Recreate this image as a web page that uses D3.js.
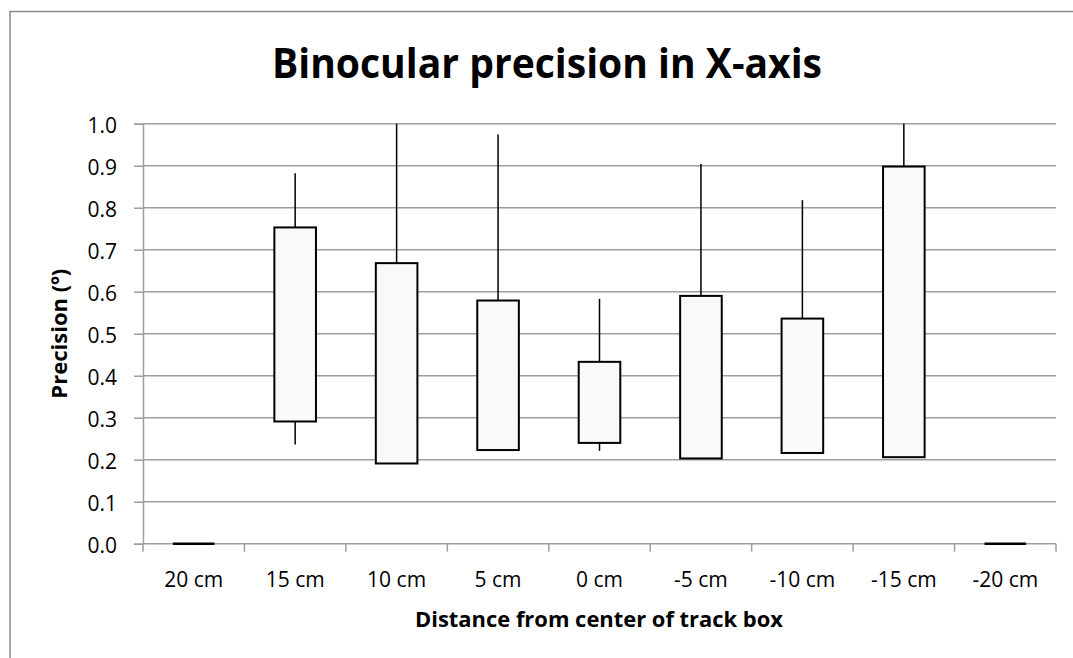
<!DOCTYPE html>
<html>
<head>
<meta charset="utf-8">
<script src="https://cdn.jsdelivr.net/npm/d3@7"></script>
<style>
  html, body { margin: 0; padding: 0; background: #fff; }
  svg { display: block; }
  text { font-family: "Open Sans", "Liberation Sans", sans-serif; fill: #000; }
</style>
</head>
<body>
<svg id="chart" width="1073" height="658"></svg>
<script>
// ---- data ----
const categories = ["20 cm", "15 cm", "10 cm", "5 cm", "0 cm", "-5 cm", "-10 cm", "-15 cm", "-20 cm"];
const whiskerLow  = [0, 0.236, 0.191, 0.223, 0.221, 0.203, 0.216, 0.206, 0];
const boxLow      = [0, 0.291, 0.191, 0.223, 0.240, 0.203, 0.216, 0.206, 0];
const boxHigh     = [0, 0.753, 0.668, 0.579, 0.433, 0.590, 0.536, 0.898, 0];
const whiskerHigh = [0, 0.882, 1.000, 0.974, 0.583, 0.904, 0.818, 1.000, 0];
const yTicks = [0, 0.1, 0.2, 0.3, 0.4, 0.5, 0.6, 0.7, 0.8, 0.9, 1.0];
const titleText = "Binocular precision in X-axis";
const xTitleText = "Distance from center of track box";
const yTitleText = "Precision (º)";

(function () {
const rows = categories.map((c, i) => ({
  cat: c, wl: whiskerLow[i], bl: boxLow[i], bh: boxHigh[i], wh: whiskerHigh[i]
}));

const svg = d3.select("#chart");
const pLeft = 143, pRight = 1056, pTop = 123.7, pBottom = 543.7;

// outer chart border
svg.append("rect")
  .attr("x", 10).attr("y", 11.5).attr("width", 1200).attr("height", 800)
  .attr("fill", "none").attr("stroke", "#898989").attr("stroke-width", 1.5);

const x = d3.scaleBand().domain(categories).range([pLeft, pRight]).padding(0);
const y = d3.scaleLinear().domain([0, 1]).range([pBottom, pTop]);

// gridlines
svg.append("g").selectAll("line").data(yTicks.filter(t => t > 0)).join("line")
  .attr("x1", pLeft).attr("x2", pRight)
  .attr("y1", d => y(d)).attr("y2", d => y(d))
  .attr("stroke", "#9e9e9e").attr("stroke-width", 1.5);

// y axis
const yAxis = svg.append("g").attr("transform", `translate(${pLeft},0)`)
  .call(d3.axisLeft(y).tickValues(yTicks).tickFormat(d3.format(".1f")).tickSize(9).tickPadding(17));
yAxis.select(".domain").attr("stroke", "#9e9e9e").attr("stroke-width", 1.5);
yAxis.selectAll(".tick line").attr("stroke", "#9e9e9e").attr("stroke-width", 1.5);
yAxis.selectAll(".tick text").style("font-size", "21px").attr("fill", "#000")
  .style("font-family", "'Open Sans', sans-serif").attr("dy", "0.4em");

// x axis with ticks at band boundaries
const xAxisG = svg.append("g").attr("transform", `translate(0,${pBottom})`);
xAxisG.append("line").attr("x1", pLeft).attr("x2", pRight).attr("y1", 0).attr("y2", 0)
  .attr("stroke", "#9e9e9e").attr("stroke-width", 1.5);
const boundaries = categories.map(c => x(c)).concat([x(categories[categories.length - 1]) + x.bandwidth()]);
xAxisG.selectAll("line.tk").data(boundaries).join("line").attr("class", "tk")
  .attr("x1", d => d).attr("x2", d => d).attr("y1", 0).attr("y2", 8)
  .attr("stroke", "#9e9e9e").attr("stroke-width", 1.5);
xAxisG.selectAll("text").data(categories).join("text")
  .attr("x", d => x(d) + x.bandwidth() / 2).attr("y", 43)
  .attr("text-anchor", "middle").style("font-size", "21px").text(d => d);

// boxes
const bw = x.bandwidth() * 0.41;
const g = svg.append("g");
const plotRows = rows.filter(r => r.bh > r.bl || r.wh > r.wl);
g.selectAll("line.wu").data(plotRows).join("line").attr("class", "wu")
  .attr("x1", d => x(d.cat) + x.bandwidth() / 2).attr("x2", d => x(d.cat) + x.bandwidth() / 2)
  .attr("y1", d => y(d.bh)).attr("y2", d => y(d.wh))
  .attr("stroke", "#000").attr("stroke-width", 1.5);
g.selectAll("line.wl").data(plotRows.filter(r => r.wl < r.bl)).join("line").attr("class", "wl")
  .attr("x1", d => x(d.cat) + x.bandwidth() / 2).attr("x2", d => x(d.cat) + x.bandwidth() / 2)
  .attr("y1", d => y(d.bl)).attr("y2", d => y(d.wl))
  .attr("stroke", "#000").attr("stroke-width", 1.5);
g.selectAll("rect.box").data(plotRows).join("rect").attr("class", "box")
  .attr("x", d => x(d.cat) + x.bandwidth() / 2 - bw / 2).attr("width", bw)
  .attr("y", d => y(d.bh)).attr("height", d => y(d.bl) - y(d.bh))
  .attr("fill", "#f9f9f9").attr("stroke", "#000").attr("stroke-width", 2);
g.selectAll("line.flat").data(rows.filter(r => r.bh === r.bl && r.wh === r.wl)).join("line").attr("class", "flat")
  .attr("x1", d => x(d.cat) + x.bandwidth() / 2 - bw / 2).attr("x2", d => x(d.cat) + x.bandwidth() / 2 + bw / 2)
  .attr("y1", d => y(d.bl)).attr("y2", d => y(d.bl))
  .attr("stroke", "#000").attr("stroke-width", 2.5);

function fit(sel, target) {
  const len = sel.node().getComputedTextLength();
  const fs = parseFloat(sel.style("font-size"));
  if (len > 0) sel.style("font-size", (fs * target / len) + "px");
}

svg.append("text").attr("x", 272).attr("y", 78).attr("text-anchor", "start")
  .style("font-size", "41px").style("font-weight", "bold")
  .attr("textLength", 550).attr("lengthAdjust", "spacingAndGlyphs").text(titleText);

svg.append("text").attr("x", 415).attr("y", 627).attr("text-anchor", "start")
  .style("font-size", "21px").style("font-weight", "bold")
  .attr("textLength", 368).attr("lengthAdjust", "spacingAndGlyphs").text(xTitleText);

const yt = svg.append("text").attr("transform", `translate(67,333.7) rotate(-90)`).attr("text-anchor", "middle")
  .style("font-size", "20px").style("font-weight", "bold").text(yTitleText);
fit(yt, 130);
})();
</script>
</body>
</html>
